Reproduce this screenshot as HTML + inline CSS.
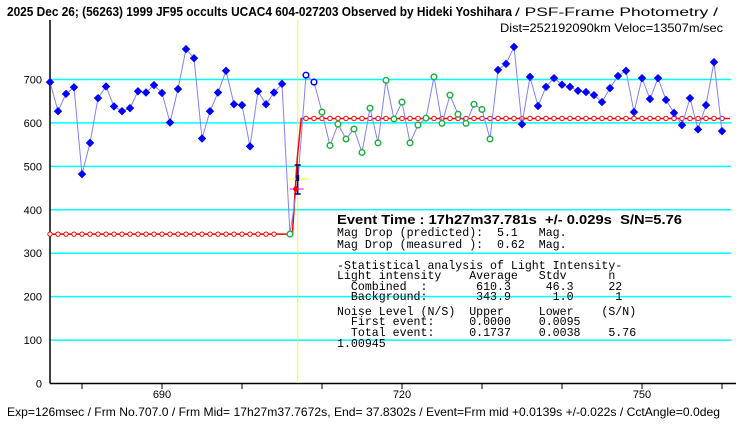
<!DOCTYPE html>
<html><head><meta charset="utf-8"><style>
html,body{margin:0;padding:0;background:#fff;}
svg{display:block;}
text{font-family:"Liberation Sans",sans-serif;}
.m{font-family:"Liberation Mono",monospace;font-size:11.6px;}
</style></head><body>
<svg id="chart" width="740" height="425" viewBox="0 0 740 425" xmlns="http://www.w3.org/2000/svg">
<text x="7" y="16" font-size="13" font-weight="bold" textLength="505" lengthAdjust="spacingAndGlyphs">2025 Dec 26; (56263) 1999 JF95 occults UCAC4 604-027203 Observed by Hideki Yoshihara</text>
<text x="515" y="16" font-size="12" textLength="203" lengthAdjust="spacingAndGlyphs">/ PSF-Frame Photometry /</text>
<text x="500" y="32" font-size="12" textLength="223" lengthAdjust="spacingAndGlyphs">Dist=252192090km Veloc=13507m/sec</text>
<g id="grid"></g>
<g id="axes"></g>
<g id="series"></g>
<g id="info">
<text x="337" y="224" font-size="13" font-weight="bold" textLength="345" lengthAdjust="spacingAndGlyphs" xml:space="preserve">Event Time : 17h27m37.781s  +/- 0.029s  S/N=5.76</text>
<text class="m" x="337" y="236" xml:space="preserve">Mag Drop (predicted):  5.1   Mag.</text>
<text class="m" x="337" y="248" xml:space="preserve">Mag Drop (measured ):  0.62  Mag.</text>
<text class="m" x="337" y="269" xml:space="preserve">-Statistical analysis of Light Intensity-</text>
<text class="m" x="337" y="279" xml:space="preserve">Light intensity    Average   Stdv      n</text>
<text class="m" x="337" y="290" xml:space="preserve">  Combined  :       610.3     46.3     22</text>
<text class="m" x="337" y="300" xml:space="preserve">  Background:       343.9      1.0      1</text>
<text class="m" x="337" y="315" xml:space="preserve">Noise Level (N/S)  Upper     Lower    (S/N)</text>
<text class="m" x="337" y="325" xml:space="preserve">  First event:     0.0000    0.0095</text>
<text class="m" x="337" y="336" xml:space="preserve">  Total event:     0.1737    0.0038    5.76</text>
<text class="m" x="337" y="347">1.00945</text>
</g>
<text x="7" y="416" font-size="12" textLength="713" lengthAdjust="spacingAndGlyphs">Exp=126msec / Frm No.707.0 / Frm Mid= 17h27m37.7672s,  End= 37.8302s / Event=Frm mid +0.0139s +/-0.022s / CctAngle=0.0deg</text>
</svg>
<script>
const values=[694,627,667,682,482,554,657,684,638,627,634,673,670,687,669,601,678,770,749,564,627,670,720,643,641,546,673,643,670,690,344,470,710,694,625,548,597,563,586,532,634,554,698,609,648,554,595,611,706,599,664,620,599,643,631,563,722,736,775,597,706,639,683,703,688,683,674,671,664,648,680,708,720,625,703,655,703,653,623,595,657,585,641,740,581];
const pointTypes=["f","f","f","f","f","f","f","f","f","f","f","f","f","f","f","f","f","f","f","f","f","f","f","f","f","f","f","f","f","f","g","n","h","h","g","g","g","g","g","g","g","g","g","g","g","g","g","g","g","g","g","g","g","g","g","g","f","f","f","f","f","f","f","f","f","f","f","f","f","f","f","f","f","f","f","f","f","f","f","f","f","f","f","f","f"];
const firstFrame=676;
const yTicks=[0,100,200,300,400,500,600,700];
const xTicks=[680,690,700,710,720,730,740,750,760];
const xTickLabels=[690,720,750];
const background=343.9, combined=610.3;
const eventFrame=706.9, eventValue=470;

const NS="http://www.w3.org/2000/svg";
const X=f=>50+(f-676)*8;
const Y=v=>383.5-v*0.4343;
function mk(tag,attrs,parent){const e=document.createElementNS(NS,tag);for(const k in attrs)e.setAttribute(k,attrs[k]);parent.appendChild(e);return e;}
const grid=document.getElementById('grid'),axes=document.getElementById('axes'),ser=document.getElementById('series');

yTicks.forEach(v=>{
 if(v>0){const l=mk('line',{x1:50,x2:731,y1:Y(v),y2:Y(v),stroke:'#00ffff','stroke-width':1.5},grid);
 
 }
 const t=mk('text',{x:42,y:Y(v)+4,'font-size':11,'text-anchor':'end'},axes);t.textContent=v;
 
 
});
xTicks.forEach(f=>{const l=mk('line',{x1:X(f),x2:X(f),y1:383,y2:389,stroke:'#000'},axes);
 
 });
xTickLabels.forEach(f=>{const t=mk('text',{x:X(f),y:398,'font-size':11,'text-anchor':'middle'},axes);t.textContent=f;
 
 });
let a=mk('line',{x1:50,x2:50,y1:20,y2:383.5,stroke:'#000','stroke-width':1.5},axes);


a=mk('line',{x1:50,x2:736,y1:383.5,y2:383.5,stroke:'#000','stroke-width':1.5},axes);


a=mk('line',{x1:X(eventFrame)+0.5,x2:X(eventFrame)+0.5,y1:20,y2:383,stroke:'#ffff00'},axes);



const lastFrame=firstFrame+values.length-1;
let p=mk('polyline',{points:`${X(firstFrame)},${Y(background)} ${X(eventFrame-0.6)},${Y(background)} ${X(eventFrame)},${Y((background+combined)/2+40)} ${X(eventFrame+0.5)},${Y(combined)} ${X(lastFrame+1)},${Y(combined)}`,fill:'none',stroke:'#ff0000','stroke-width':1.5},ser);


for(let f=firstFrame;f<=lastFrame;f++){
 if(f>=Math.floor(eventFrame)-1 && f<=Math.floor(eventFrame)+1) continue;
 const v=f<eventFrame?background:combined;
 const c=mk('circle',{cx:X(f),cy:Y(v),r:2.2,fill:'#fff',stroke:'#ff0000','stroke-width':1},ser);
 
 
}
const pts=values.map((v,i)=>X(firstFrame+i)+','+Y(v)).join(' ');
p=mk('polyline',{points:pts,fill:'none',stroke:'#8080ff','stroke-width':1},ser);


values.forEach((v,i)=>{
 const x=X(firstFrame+i),y=Y(v),t=pointTypes[i];let e;
 if(t==='f'){e=mk('path',{d:`M${x} ${y-3.8}L${x+3.8} ${y}L${x} ${y+3.8}L${x-3.8} ${y}Z`,fill:'#0000ff',stroke:'#0000ff','stroke-width':0.6},ser);}
 else if(t==='g'){e=mk('circle',{cx:x,cy:y,r:2.8,fill:'#fff',stroke:'#20b040','stroke-width':1.5},ser);}
 else if(t==='h'){e=mk('circle',{cx:x,cy:y,r:2.8,fill:'#fff',stroke:'#0000ff','stroke-width':1.5},ser);}
 else return;
 
 
});
const ex=X(eventFrame)+0.5;
const eg=mk('g',{},ser);


mk('line',{x1:ex-9,x2:ex+12,y1:179,y2:179,stroke:'#ffff00','stroke-width':1},eg);
mk('line',{x1:ex-8,x2:ex+6,y1:189,y2:189,stroke:'#ff00ff','stroke-width':1},eg);
mk('line',{x1:ex,x2:ex,y1:165,y2:194,stroke:'#000080','stroke-width':1.5},eg);
mk('line',{x1:ex-3,x2:ex+3,y1:165,y2:165,stroke:'#000080','stroke-width':1.5},eg);
mk('line',{x1:ex-3,x2:ex+3,y1:194,y2:194,stroke:'#000080','stroke-width':1.5},eg);
mk('rect',{x:ex-1.5,y:175,width:3,height:6,fill:'#000080'},eg);
mk('path',{d:`M${ex-2} 185L${ex+1} 189L${ex-2} 193L${ex-5} 189Z`,fill:'#ff0000'},eg);
</script>
</body></html>
